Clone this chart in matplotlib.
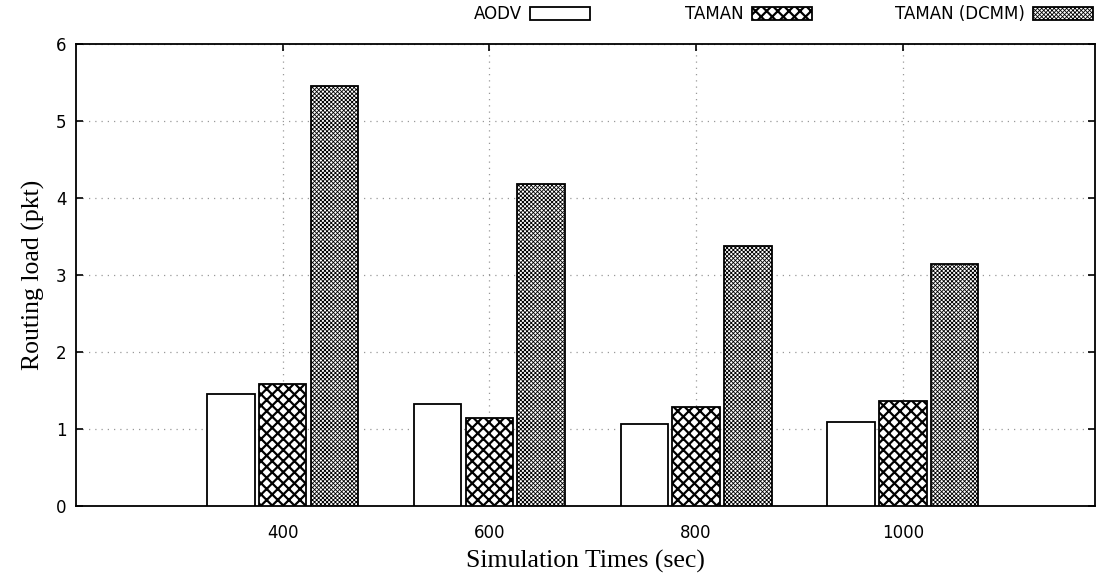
import numpy as np
import matplotlib
matplotlib.use("Agg")
import matplotlib.pyplot as plt
from matplotlib.patches import Patch

times = ["400", "600", "800", "1000"]
series = ["AODV", "TAMAN", "TAMAN (DCMM)"]
aodv = [1.46, 1.33, 1.07, 1.09]
taman = [1.58, 1.14, 1.29, 1.36]
dcmm = [5.45, 4.18, 3.38, 3.14]

hatches = ["", "xxx", "xxxxxxxx"]
hatch_lw = [1.0, 1.6, 0.6]

fig = plt.figure(figsize=(11.05, 5.87), dpi=100)
ax = fig.add_axes([76 / 1105, 81 / 587, 1019 / 1105, 462 / 587])

x = np.arange(len(times))
w = 0.23
step = 0.25
for i, (vals, h, hl) in enumerate(zip([aodv, taman, dcmm], hatches, hatch_lw)):
    with plt.rc_context({"hatch.linewidth": hl}):
        ax.bar(x + (i - 1) * step, vals, w, color="white", edgecolor="black",
               lw=1.3, hatch=h, zorder=3)

ax.set_xlim(-1.0, 3.93)
ax.set_ylim(0, 6)
ax.set_xticks(x)
ax.set_xticklabels(times)
ax.set_yticks(range(7))
ax.tick_params(direction="in", top=True, right=True, length=5, width=1.2,
               labelsize=12, color="black")
ax.tick_params(axis="x", pad=13)
ax.tick_params(axis="y", pad=7)
for lab in ax.get_xticklabels() + ax.get_yticklabels():
    lab.set_family("DejaVu Sans")
for s in ax.spines.values():
    s.set_linewidth(1.3)
ax.grid(True, ls=(0, (1, 4)), color="#999999", lw=0.9, zorder=0)

ax.set_xlabel("Simulation Times (sec)", family="Liberation Serif", fontsize=18.5, labelpad=6)
ax.set_ylabel("Routing load (pkt)", family="Liberation Serif", fontsize=18.5, labelpad=8)

# gnuplot-style key: label then box, spread along the top
anchors = [590, 812, 1093]
for name, h, hl, xr in zip(series, hatches, hatch_lw, anchors):
    with plt.rc_context({"hatch.linewidth": hl}):
        p = Patch(facecolor="white", edgecolor="black", hatch=h, lw=1.3)
        fig.legend([p], [name], loc="center right", bbox_to_anchor=(xr / 1105, 1 - 14 / 587),
                   frameon=False, markerfirst=False, handlelength=3.6, handleheight=0.8,
                   handletextpad=0.5, borderpad=0, borderaxespad=0,
                   prop={"family": "DejaVu Sans", "size": 12})

fig.savefig("out.png", dpi=100)
